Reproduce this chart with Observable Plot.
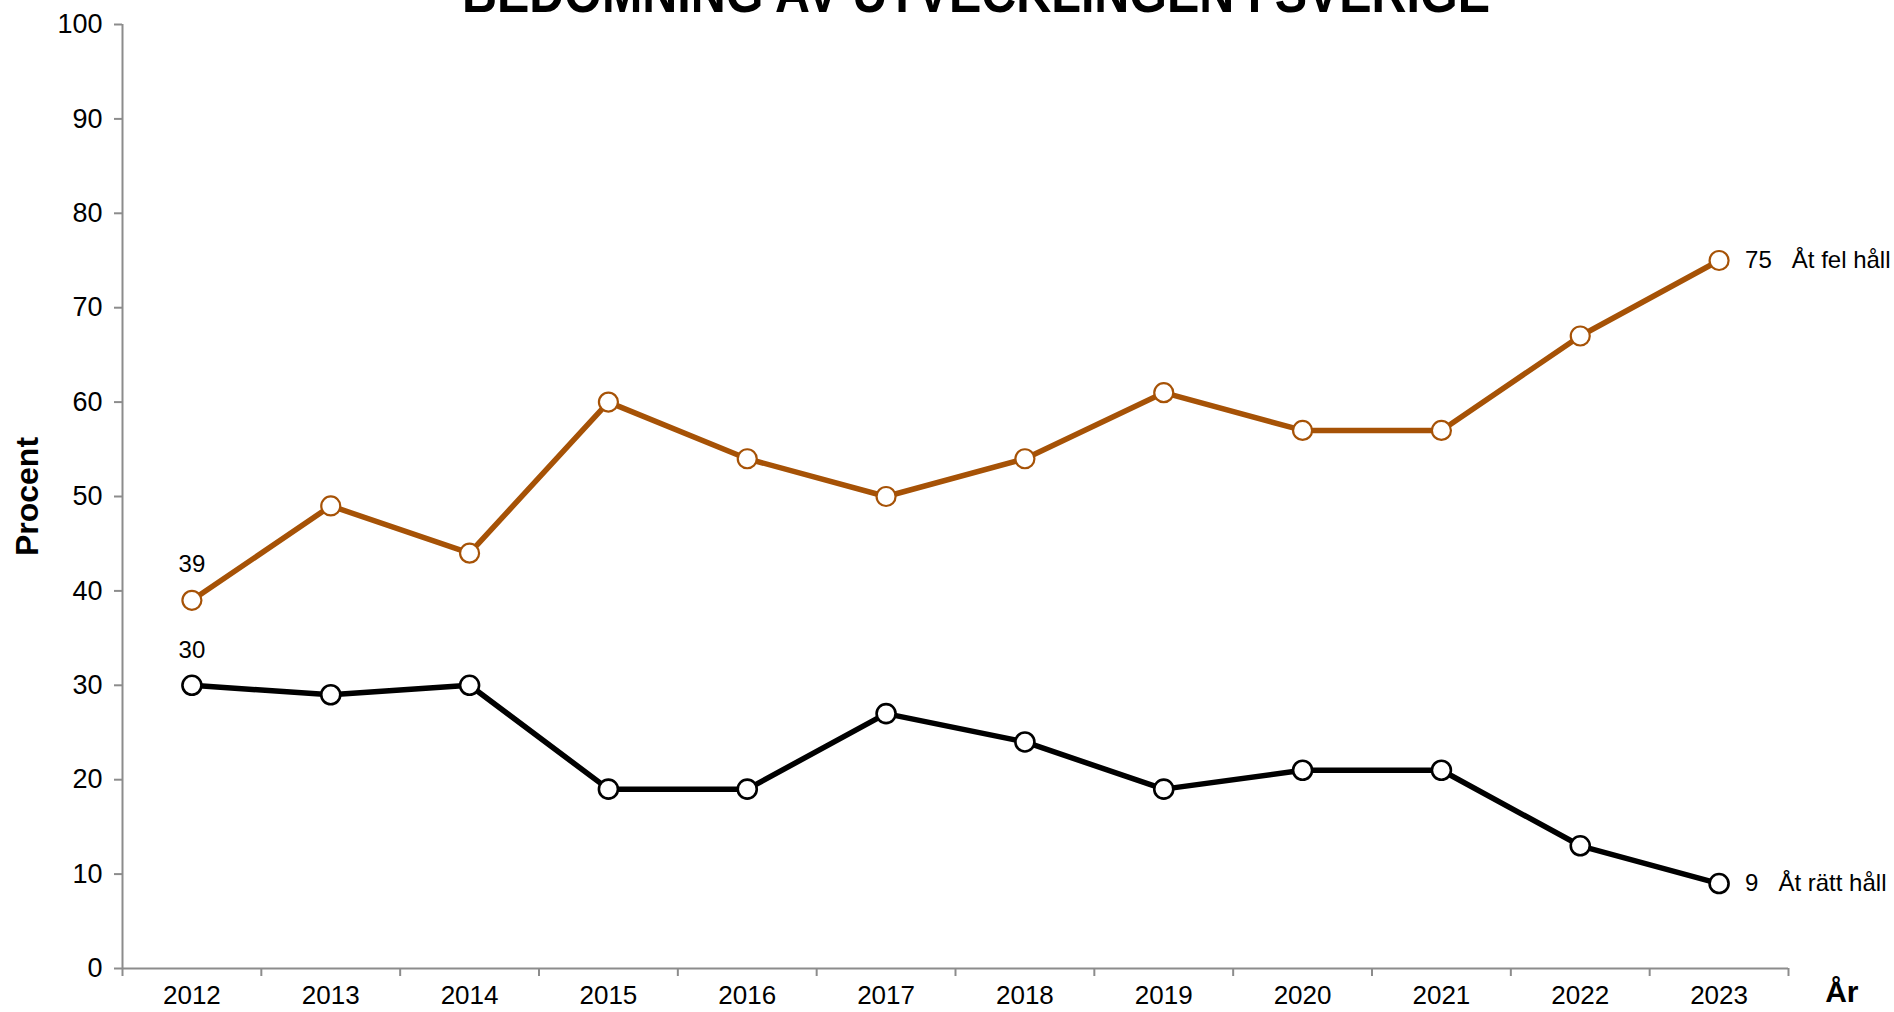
<!DOCTYPE html>
<html>
<head>
<meta charset="utf-8">
<script src="https://cdn.jsdelivr.net/npm/d3@7"></script>
<script src="https://cdn.jsdelivr.net/npm/@observablehq/plot@0.6"></script>
<style>
  html, body { margin: 0; padding: 0; background: #fff; overflow: hidden; }
  #wrap { position: relative; width: 1894px; height: 1012px; overflow: hidden; }
  #title { position: absolute; left: 976px; top: -34.7px; transform: translateX(-50%) scaleX(0.865);
    font-family: "Liberation Sans Narrow", "Liberation Sans", Arial, sans-serif;
    font-weight: bold; font-size: 56px; line-height: 56px; color: #000; white-space: nowrap; }
  #chart { position: absolute; left: 0; top: 0; }
  svg { font-family: "Liberation Sans", Arial, sans-serif; }
</style>
</head>
<body>
<div id="wrap">
  <div id="chart"></div>
  <div id="title">BEDÖMNING AV UTVECKLINGEN I SVERIGE</div>
</div>
<script>
const years = [2012, 2013, 2014, 2015, 2016, 2017, 2018, 2019, 2020, 2021, 2022, 2023];
const felHall = [39, 49, 44, 60, 54, 50, 54, 61, 57, 57, 67, 75];
const rattHall = [30, 29, 30, 19, 19, 27, 24, 19, 21, 21, 13, 9];
const seriesNames = ["Åt fel håll", "Åt rätt håll"];
const yTicks = [0, 10, 20, 30, 40, 50, 60, 70, 80, 90, 100];

const orange = "#A65206";
const black = "#000000";
const axisGray = "#8c8c8c";

const fel = years.map((y, i) => ({year: y, value: felHall[i]}));
const ratt = years.map((y, i) => ({year: y, value: rattHall[i]}));
const boundaries = d3.range(years[0] - 0.5, years[years.length - 1] + 1, 1);
const xMin = years[0] - 0.5, xMax = years[years.length - 1] + 0.5;

const firstFel = [fel[0]], firstRatt = [ratt[0]];
const lastFel = [{...fel[fel.length - 1], label: fel[fel.length - 1].value + "\u00a0\u00a0\u00a0" + seriesNames[0]}];
const lastRatt = [{...ratt[ratt.length - 1], label: ratt[ratt.length - 1].value + "\u00a0\u00a0\u00a0" + seriesNames[1]}];

const chart = Plot.plot({
  width: 1894,
  height: 1012,
  marginLeft: 122,
  marginRight: 106,
  marginTop: 24,
  marginBottom: 44,
  style: {fontFamily: "Liberation Sans, Arial, sans-serif", fontSize: "24px", color: "#000", background: "#fff", overflow: "visible"},
  x: {domain: [xMin, xMax]},
  y: {domain: [0, 100]},
  marks: [
    // axes lines
    Plot.ruleY([0], {x1: xMin, x2: xMax, stroke: axisGray, strokeWidth: 2}),
    Plot.ruleX([xMin], {y1: 0, y2: 100, stroke: axisGray, strokeWidth: 2}),
    // y axis ticks and labels
    Plot.axisY({ticks: yTicks, tickSize: 8, tickPadding: 12, stroke: axisGray, strokeWidth: 2, fontSize: 27, fill: "#000", label: null}),
    // x boundary ticks
    Plot.axisX({ticks: boundaries, tickSize: 8, tickFormat: () => "", stroke: axisGray, strokeWidth: 2, label: null}),
    // x year labels
    Plot.axisX({ticks: years, tickSize: 0, tickPadding: 17, tickFormat: d => String(d), fontSize: 26, fill: "#000", label: null}),
    // lines
    Plot.line(fel, {x: "year", y: "value", stroke: orange, strokeWidth: 5.5}),
    Plot.line(ratt, {x: "year", y: "value", stroke: black, strokeWidth: 5.5}),
    Plot.dot(fel, {x: "year", y: "value", r: 9.5, fill: "#fff", stroke: orange, strokeWidth: 2.2}),
    Plot.dot(ratt, {x: "year", y: "value", r: 9.5, fill: "#fff", stroke: black, strokeWidth: 2.6}),
    // first labels
    Plot.text(firstFel, {x: "year", y: "value", text: d => String(d.value), dy: -36, fontSize: 24, fill: "#000"}),
    Plot.text(firstRatt, {x: "year", y: "value", text: d => String(d.value), dy: -35, fontSize: 24, fill: "#000"}),
    // end labels
    Plot.text(lastFel, {x: "year", y: "value", text: "label", dx: 26, textAnchor: "start", fontSize: 24, fill: "#000"}),
    Plot.text(lastRatt, {x: "year", y: "value", text: "label", dx: 26, textAnchor: "start", fontSize: 24, fill: "#000"}),
    // axis titles
    Plot.text(["Procent"], {frameAnchor: "left", dx: -95, rotate: -90, fontSize: 32, fontWeight: "bold", fill: "#000", textAnchor: "middle"}),
    Plot.text(["År"], {frameAnchor: "bottom-right", dx: 70, dy: 33, fontSize: 30, fontWeight: "bold", fill: "#000"})
  ]
});
document.getElementById("chart").appendChild(chart);
</script>
</body>
</html>
